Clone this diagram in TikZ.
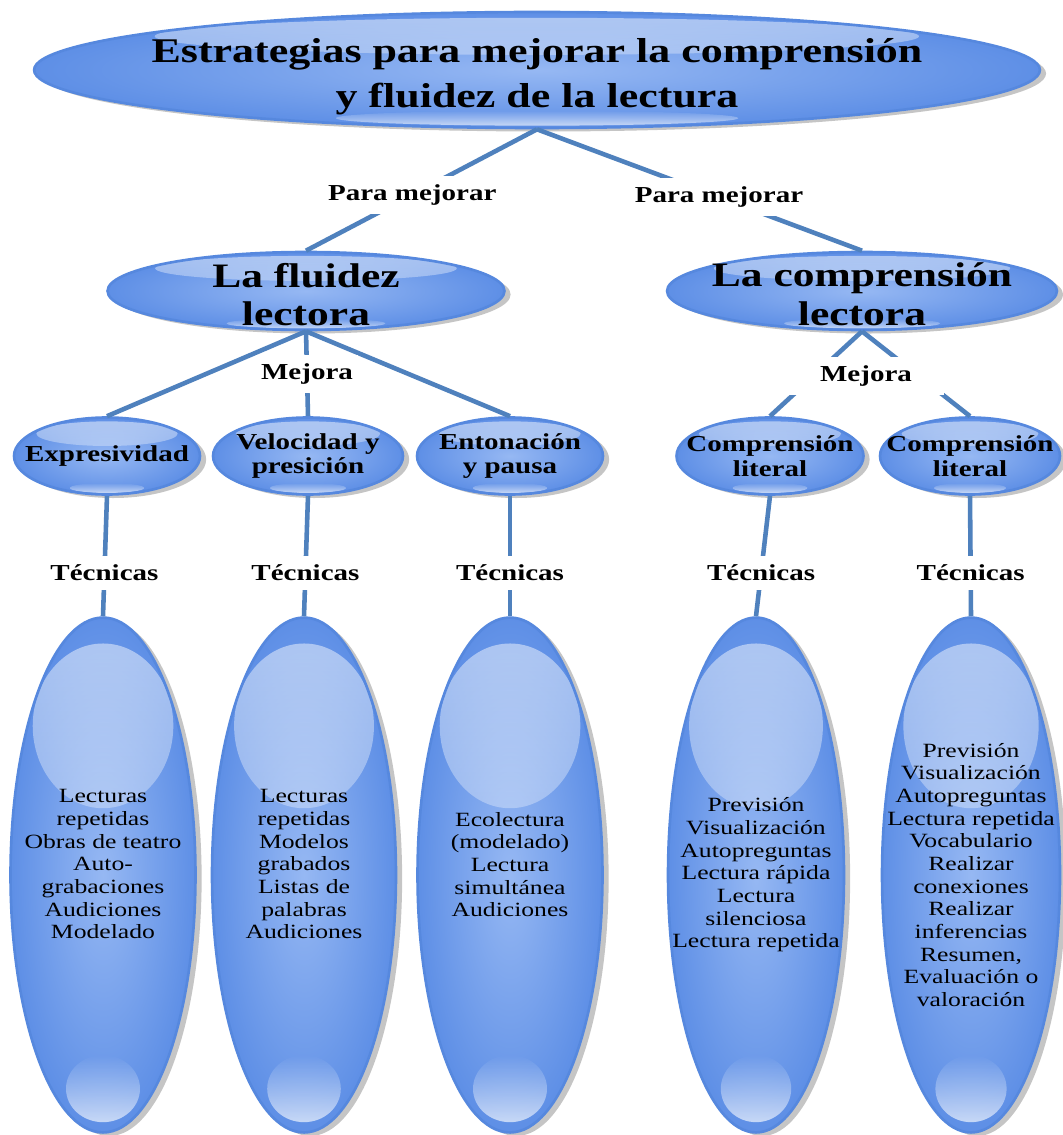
\documentclass[tikz,border=0pt]{standalone}
\usepackage{fontspec}
\setmainfont[FakeStretch=1.27]{Liberation Serif}
\usetikzlibrary{shapes.geometric,shadows,calc,fadings}

\definecolor{linkblue}{RGB}{79,129,189}
\definecolor{bubbleedge}{RGB}{86,136,222}
\definecolor{bubbleout}{RGB}{94,143,230}
\definecolor{bubblein}{RGB}{150,184,243}

\tikzset{
  gloss/.style={path picture={
    \fill[white,opacity=.5,path fading=south] let \p1=(path picture bounding box.north east),
        \p2=(path picture bounding box.south west) in
      ({(\x1+\x2)/2},{\y1-0.21*(\y1-\y2)}) ellipse [x radius={0.38*(\x1-\x2)}, y radius={0.16*(\y1-\y2)}];
    \fill[white,opacity=.65,path fading=north] let \p1=(path picture bounding box.north east),
        \p2=(path picture bounding box.south west) in
      ({(\x1+\x2)/2},{\y2+0.085*(\y1-\y2)}) ellipse [x radius={0.2*(\x1-\x2)}, y radius={0.065*(\y1-\y2)}];}},
  bubble/.style={ellipse, draw=bubbleedge, line width=1.5pt, inner sep=0pt,
    inner color=bubblein, outer color=bubbleout,
    drop shadow={shadow xshift=3.5pt, shadow yshift=-2pt, opacity=.45}, gloss},
  link/.style={draw=linkblue, line width=2.6pt},
  tag/.style={fill=white, inner xsep=3pt, inner ysep=5pt, font=\fontsize{13}{15}\selectfont\bfseries},
  bighead/.style={font=\fontsize{19.7}{25.5}\selectfont\bfseries, align=center},
  midhead/.style={font=\fontsize{19.5}{22}\selectfont\bfseries, align=center},
  smallhead/.style={font=\fontsize{13}{14.2}\selectfont\bfseries, align=center},
  txt/.style={font=\fontsize{11.5}{12.9}\selectfont, align=center}
}

\begin{document}
\begin{tikzpicture}[x=0.02cm, y=-0.02cm]
\fill[white] (0,0) rectangle (1062,1135);
\useasboundingbox (0,0) rectangle (1062,1135);

% title and the two aims
\node[bubble, minimum width=20.12cm, minimum height=2.32cm,
  label={[bighead,yshift=-4pt]center:Estrategias para mejorar la comprensión\\y fluidez de la lectura}] (title) at (537,70) {};
\node[bubble, minimum width=7.94cm, minimum height=1.56cm,
  label={[midhead,yshift=-2pt]center:La fluidez\\lectora}] (flu) at (306,291) {};
\node[bubble, minimum width=7.8cm, minimum height=1.56cm,
  label={[midhead,yshift=-2pt]center:La comprensión\\lectora}] (com) at (862,291) {};

% what each one improves
\node[bubble, minimum width=3.72cm, minimum height=1.54cm,
  label={[smallhead]center:Expresividad}] (exp) at (107,456) {};
\node[bubble, minimum width=3.8cm, minimum height=1.54cm,
  label={[smallhead]center:Velocidad y\\presición}] (vel) at (308,456) {};
\node[bubble, minimum width=3.72cm, minimum height=1.54cm,
  label={[smallhead]center:Entonación\\y pausa}] (ent) at (510,456) {};
\node[bubble, minimum width=3.74cm, minimum height=1.54cm,
  label={[smallhead]center:Comprensión\\literal}] (lita) at (770,456) {};
\node[bubble, minimum width=3.6cm, minimum height=1.54cm,
  label={[smallhead]center:Comprensión\\literal}] (litb) at (970,456) {};

% techniques
\node[bubble, minimum width=3.7cm, minimum height=10.3cm,
  label={[txt,yshift=6pt]center:Lecturas\\repetidas\\Obras de teatro\\Auto-\\grabaciones\\Audiciones\\Modelado}] (b1) at (103,875) {};
\node[bubble, minimum width=3.68cm, minimum height=10.3cm,
  label={[txt,yshift=6pt]center:Lecturas\\repetidas\\Modelos\\grabados\\Listas de\\palabras\\Audiciones}] (b2) at (304,875) {};
\node[bubble, minimum width=3.7cm, minimum height=10.3cm,
  label={[txt,yshift=6pt]center:Ecolectura\\(modelado)\\Lectura\\simultánea\\Audiciones}] (b3) at (510,875) {};
\node[bubble, minimum width=3.52cm, minimum height=10.3cm,
  label={[txt]center:Previsión\\Visualización\\Autopreguntas\\Lectura rápida\\Lectura\\silenciosa\\Lectura repetida}] (b4) at (756,875) {};
\node[bubble, minimum width=3.56cm, minimum height=10.3cm,
  label={[txt]center:Previsión\\Visualización\\Autopreguntas\\Lectura repetida\\Vocabulario\\Realizar\\conexiones\\Realizar\\inferencias\\Resumen,\\Evaluación o\\valoración}] (b5) at (971,875) {};

% connectors
\draw[link] (title.south) -- node[tag,pos=.54] (pm1) {Para mejorar} (flu.north);
\draw[link] (title.south) -- node[tag,pos=.56] (pm2) {Para mejorar} (com.north);
\draw[link] (flu.south) -- (exp.north);
\draw[link] (flu.south) -- (ent.north);
\draw[link] (flu.south) -- node[tag] (mej1) {Mejora} (vel.north);
\draw[link] (com.south) -- (lita.north);
\draw[link] (com.south) -- (litb.north);
\node[tag, inner xsep=18pt] (mej2) at (866,376) {Mejora};
\foreach \a/\b in {exp/b1,vel/b2,ent/b3,lita/b4,litb/b5}
  \draw[link] (\a.south) -- node[tag,pos=.64] {Técnicas} (\b.north);
\end{tikzpicture}
\end{document}
